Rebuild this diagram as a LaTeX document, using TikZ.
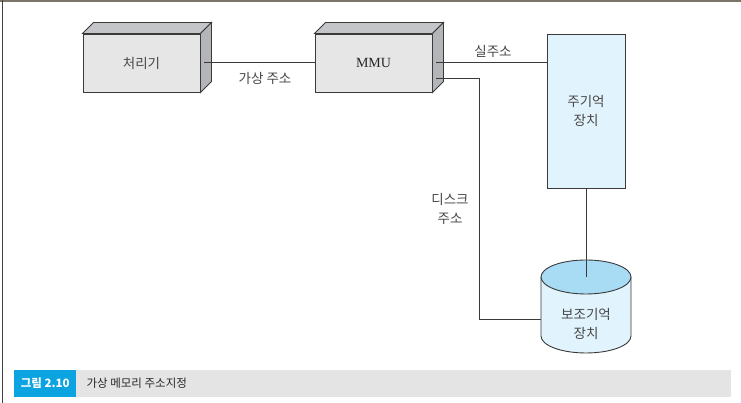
\documentclass[tikz,border=0pt]{standalone}
\usepackage{fontspec}
\setmainfont{Liberation Serif}
\newfontfamily\kor{Noto Sans CJK KR}
\usetikzlibrary{positioning}

\definecolor{boxfront}{HTML}{E6E6E6}
\definecolor{boxside}{HTML}{B4B5B9}
\definecolor{boxtop}{HTML}{C4C5C8}
\definecolor{memfill}{HTML}{E1F3FC}
\definecolor{disktop}{HTML}{A8DCF4}
\definecolor{linegray}{HTML}{3A3A3A}
\definecolor{capgray}{HTML}{E4E4E4}
\definecolor{capblue}{HTML}{0BA3E0}
\definecolor{framegray}{HTML}{7D7668}

\tikzset{
  unitbox/.style={draw=linegray, fill=boxfront, line width=0.9pt, minimum width=117pt, minimum height=58pt, inner sep=0pt},
  membox/.style={draw=linegray, fill=memfill, line width=0.9pt, minimum width=78pt, minimum height=154pt, inner sep=0pt, align=center},
  wire/.style={draw=linegray, line width=0.9pt},
  lbl/.style={font=\kor\fontsize{13.5}{19}\selectfont, text=black!72, align=center, inner sep=0pt},
}

\begin{document}
\begin{tikzpicture}[x=1pt,y=1pt]
\useasboundingbox (0,0) rectangle (741,403);

\draw[framegray,line width=2pt] (0,402) -- (741,402); %top rule
\draw[black!75,line width=0.7pt] (2,403) -- (2,0); %left rule

\node[unitbox,lbl] (proc) at (141.5,340) {처리기};
\node[unitbox,font=\fontsize{14}{16}\selectfont,text=black!85] (mmu) at (373.5,340) {MMU};
\foreach \b in {proc,mmu}{
  \draw[wire,fill=boxtop] (\b.north west) -- ++(11,11) -- ([shift={(11,11)}]\b.north east) -- (\b.north east) -- cycle;
  \draw[wire,fill=boxside] (\b.north east) -- ++(11,11) -- ([shift={(11,11)}]\b.south east) -- (\b.south east) -- cycle;
}

\node[membox,lbl] (mem) at (586,292) {주기억\\장치};

% disk drum
\draw[wire,fill=memfill] (541,126) -- (541,67) arc[start angle=180,end angle=360,x radius=45pt,y radius=17pt] -- (631,126);
\draw[wire,fill=disktop] (586,126) ellipse[x radius=45pt,y radius=17pt];
\coordinate (disktop) at (586,126);
\coordinate (diskin) at (541,84);
\node[lbl] (disk) at (586,79) {보조기억\\장치};

\coordinate (mmureal) at (436,341);
\coordinate (mmudisk) at (436,325);

\draw[wire] ([xshift=4pt]proc.east |- 0,341) -- (mmu.west |- 0,341);
\draw[wire] (mmureal) -- (mem.west |- mmureal);
\draw[wire] (mmudisk) -| (479,84) -- (diskin);
\draw[wire] (mem.south) -- (disktop);

\node[lbl] (vaddr) at (265,325) {가상 주소};
\node[lbl] (raddr) at (493,352) {실주소};
\node[lbl] (daddr) at (450,194) {디스크\\주소};

% caption bar
\node[fill=capgray,minimum width=717pt,minimum height=27pt,inner sep=0pt,anchor=south west] (capbar) at (14,6) {};
\node[fill=capblue,minimum width=62pt,minimum height=27pt,inner sep=0pt,anchor=west,text=white,font=\kor\bfseries\fontsize{11.5}{13}\selectfont] (capnum) at (capbar.west) {그림 2.10};
\node[anchor=west,inner sep=0pt,font=\kor\fontsize{11.5}{13}\selectfont,text=black!85] (captext) at ([xshift=10pt]capnum.east) {가상 메모리 주소지정};

\end{tikzpicture}
\end{document}
